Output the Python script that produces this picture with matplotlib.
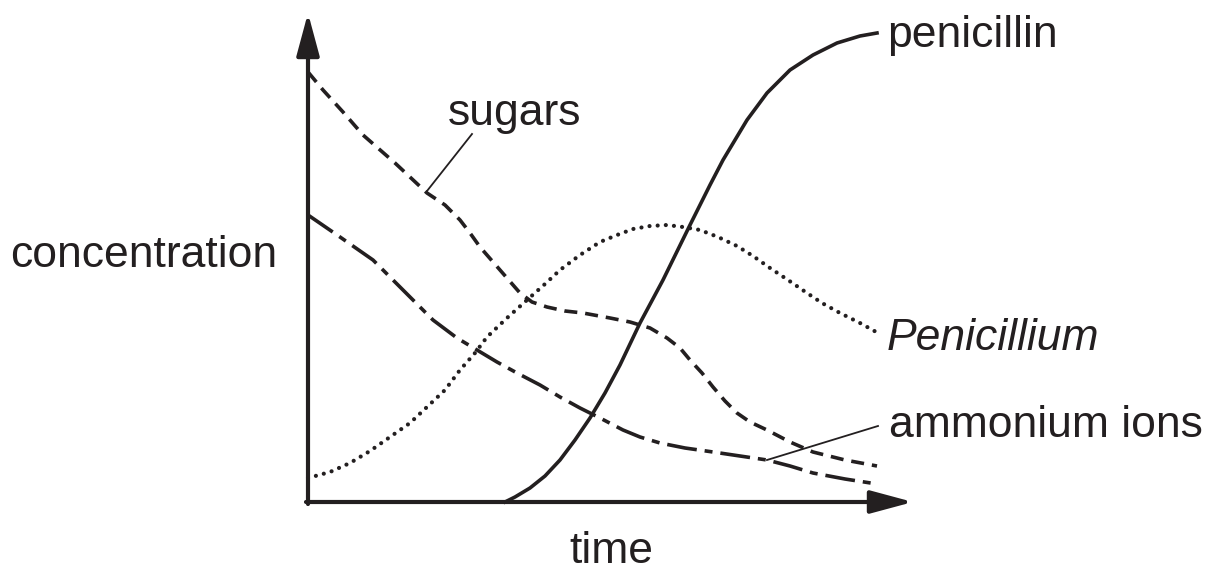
import matplotlib.pyplot as plt

# curves (pixel coords of the reference: x right, y down)
sugars_x = [308, 323, 343, 363, 395, 427, 445, 460, 470, 480, 500, 520, 532, 547, 565, 583, 610,
            630, 650, 667, 680, 690, 702, 713, 725, 737, 750, 767, 790, 813, 845, 877]
sugars_y = [72, 90, 112, 135, 163, 193, 205, 220, 233, 247, 270, 293, 302, 307, 311, 313, 318,
            322, 328, 338, 348, 360, 373, 387, 401, 413, 422, 430, 442, 452, 460, 466]

ammonium_x = [308, 340, 373, 400, 418, 433, 457, 477, 497, 517, 540, 560, 580, 600, 623, 640,
              660, 685, 713, 740, 767, 790, 813, 845, 877]
ammonium_y = [215, 237, 260, 287, 305, 320, 338, 350, 362, 373, 385, 397, 408, 418, 430, 437,
              443, 448, 452, 456, 460, 466, 473, 479, 484]

penicillium_x = [308, 330, 350, 370, 390, 410, 427, 445, 460, 475, 487, 507, 527, 545, 560, 580,
                 600, 617, 633, 650, 667, 683, 700, 718, 737, 753, 770, 788, 807, 822, 840, 860, 878]
penicillium_y = [478, 472, 463, 451, 437, 423, 407, 390, 370, 353, 337, 318, 300, 284, 270, 255,
                 242, 235, 229, 226, 225, 227, 230, 237, 246, 256, 268, 280, 293, 303, 313, 323, 333]

penicillin_x = [505, 515, 530, 545, 560, 575, 590, 605, 620, 640, 663, 690, 710, 723, 747, 767,
                790, 813, 837, 860, 877]
penicillin_y = [502, 497, 488, 476, 460, 440, 418, 393, 365, 323, 280, 225, 185, 160, 120, 93,
                70, 55, 43, 36, 33]

col = '#231f20'
plt.rcParams['font.family'] = ['Liberation Sans', 'DejaVu Sans']

fig = plt.figure(figsize=(12.21, 5.71), dpi=100)
ax = fig.add_axes([0, 0, 1, 1])
ax.set_xlim(0, 1221)
ax.set_ylim(571, 0)
ax.axis('off')

# axes with arrows
arrow = dict(arrowstyle='-|>,head_length=26,head_width=7', mutation_scale=1,
             lw=3.0, color=col, shrinkA=0, shrinkB=0)
ax.annotate('', xy=(308, 13), xytext=(308, 504), arrowprops=arrow)
ax.annotate('', xy=(913, 502), xytext=(306, 502), arrowprops=arrow)

ax.plot(sugars_x, sugars_y, color=col, lw=2.6, ls=(0, (3.6, 2.2)))
ax.plot(ammonium_x, ammonium_y, color=col, lw=2.6, ls=(0, (8.3, 2.2, 2.2, 2.2)))
ax.plot(penicillium_x, penicillium_y, color=col, lw=3.0, ls=(0, (0.01, 1.95)),
        dash_capstyle='round')
ax.plot(penicillin_x, penicillin_y, color=col, lw=2.6, solid_joinstyle='round')

# leader lines
ax.plot([427, 472], [191, 134], color=col, lw=1.3)
ax.plot([767, 878], [460, 426], color=col, lw=1.3)

fs = 32
ax.text(10, 267, 'concentration', fontsize=fs, color=col, va='baseline')
ax.text(515, 125, 'sugars', fontsize=fs, color=col, va='baseline', ha='center')
ax.text(611, 563, 'time', fontsize=fs, color=col, va='baseline', ha='center')
ax.text(887, 47, 'penicillin', fontsize=fs, color=col, va='baseline')
ax.text(887, 350, 'Penicillium', fontsize=fs, color=col, va='baseline', style='italic')
ax.text(889, 437, 'ammonium ions', fontsize=fs, color=col, va='baseline')

fig.savefig('out.png', dpi=100)
